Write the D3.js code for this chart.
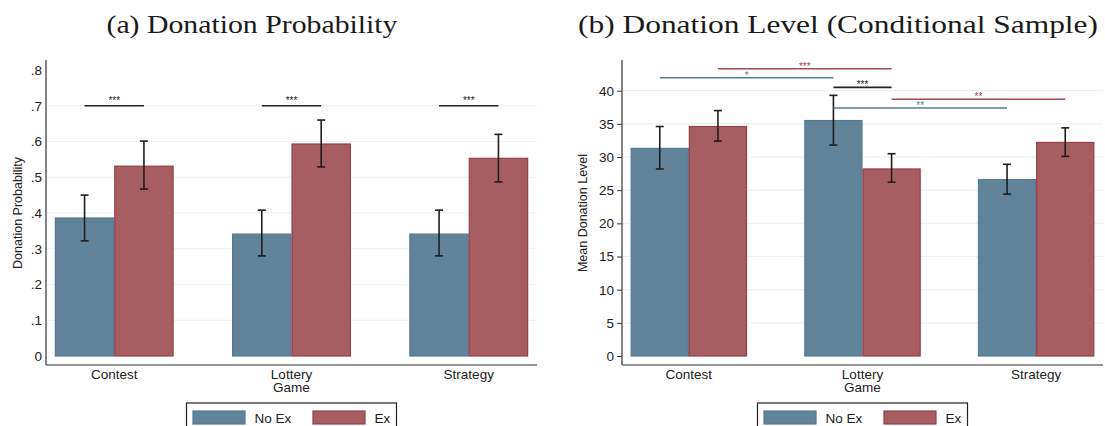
<!DOCTYPE html>
<html>
<head>
<meta charset="utf-8">
<script src="https://cdn.jsdelivr.net/npm/d3@7"></script>
<style>
  body { margin: 0; background: #fff; }
  svg { display: block; font-family: "Liberation Sans", Arial, sans-serif; }
</style>
</head>
<body>
<svg id="chart" width="1105" height="426"></svg>
<script>
// ---- data ----
const categories = ["Contest", "Lottery", "Strategy"];
const groups = ["No Ex", "Ex"];

// panel (a): donation probability, mean and 95% CI
const probNoEx   = [0.386, 0.341, 0.341];
const probNoExLo = [0.322, 0.280, 0.280];
const probNoExHi = [0.450, 0.408, 0.408];
const probEx     = [0.531, 0.593, 0.553];
const probExLo   = [0.467, 0.529, 0.487];
const probExHi   = [0.601, 0.660, 0.620];
const probTicks  = [0, 0.1, 0.2, 0.3, 0.4, 0.5, 0.6, 0.7, 0.8];
const probGrid   = [0.1, 0.2, 0.3, 0.4, 0.5, 0.6, 0.7];

// panel (b): mean donation level, conditional sample
const levelNoEx   = [31.3, 35.5, 26.6];
const levelNoExLo = [28.2, 31.8, 24.4];
const levelNoExHi = [34.6, 39.3, 28.9];
const levelEx     = [34.6, 28.2, 32.2];
const levelExLo   = [32.4, 26.2, 30.1];
const levelExHi   = [37.0, 30.5, 34.4];
const levelTicks  = [0, 5, 10, 15, 20, 25, 30, 35, 40];
const levelGrid   = [5, 10, 15, 20, 25, 30, 35, 40];

// significance brackets: [cat, group] -> [cat, group], height, stars, colour key
const probSig = [
  {from: ["Contest", "No Ex"], to: ["Contest", "Ex"], y: 0.7, label: "***", c: "k"},
  {from: ["Lottery", "No Ex"], to: ["Lottery", "Ex"], y: 0.7, label: "***", c: "k"},
  {from: ["Strategy", "No Ex"], to: ["Strategy", "Ex"], y: 0.7, label: "***", c: "k"}
];
const levelSig = [
  {from: ["Contest", "Ex"], to: ["Lottery", "Ex"], y: 43.3, label: "***", c: "Ex"},
  {from: ["Contest", "No Ex"], to: ["Lottery", "No Ex"], y: 41.95, label: "*", c: "No Ex"},
  {from: ["Lottery", "No Ex"], to: ["Lottery", "Ex"], y: 40.5, label: "***", c: "k"},
  {from: ["Lottery", "Ex"], to: ["Strategy", "Ex"], y: 38.7, label: "**", c: "Ex"},
  {from: ["Lottery", "No Ex"], to: ["Strategy", "No Ex"], y: 37.4, label: "**", c: "No Ex"}
];

const fillColor = {"No Ex": "#62849a", "Ex": "#a65e63"};
const strokeColor = {"No Ex": "#557a91", "Ex": "#9a3f4a"};
const sigColor = {"No Ex": "#5a7d95", "Ex": "#a8464f", "k": "#222"};

const svg = d3.select("#chart");

function rows(mean, lo, hi, group) {
  return categories.map((c, i) => ({cat: c, group: group, v: mean[i], lo: lo[i], hi: hi[i]}));
}

function drawPanel(opt) {
  const g = svg.append("g");
  const x = d3.scaleBand().domain(categories)
      .range([opt.left, opt.right]).paddingInner(0.33).paddingOuter(0.05);
  const xg = d3.scaleBand().domain(groups).range([0, x.bandwidth()]);
  const y = d3.scaleLinear().domain(opt.domain).range([356, opt.topPx]);

  // title
  g.append("text")
    .attr("x", opt.titleX).attr("y", 33)
    .attr("text-anchor", "middle")
    .attr("textLength", opt.titleLen).attr("lengthAdjust", "spacingAndGlyphs")
    .style("font-family", "'Liberation Serif', 'DejaVu Serif', serif")
    .style("font-size", "26px").style("fill", "#1a1a1a")
    .text(opt.title);

  // gridlines
  g.selectAll("line.grid")
    .data(opt.grid)
    .enter().append("line")
    .attr("class", "grid")
    .attr("x1", opt.left + 1).attr("x2", opt.right)
    .attr("y1", d => y(d)).attr("y2", d => y(d))
    .attr("stroke", "#e9f1f2").attr("stroke-width", 1.2);

  // bars
  const data = rows(opt.noEx, opt.noExLo, opt.noExHi, "No Ex")
    .concat(rows(opt.ex, opt.exLo, opt.exHi, "Ex"));
  g.selectAll("rect.bar")
    .data(data)
    .enter().append("rect")
    .attr("class", "bar")
    .attr("x", d => x(d.cat) + xg(d.group) + 0.5)
    .attr("width", xg.bandwidth() - 1)
    .attr("y", d => y(d.v))
    .attr("height", d => y(0) - y(d.v))
    .attr("fill", d => fillColor[d.group])
    .attr("stroke", d => strokeColor[d.group])
    .attr("stroke-width", 1.2);

  // error bars
  const cx = d => x(d.cat) + xg(d.group) + xg.bandwidth() / 2;
  const eb = g.selectAll("g.err").data(data).enter().append("g").attr("class", "err")
    .attr("stroke", "#1e1e1e").attr("stroke-width", 1.6);
  eb.append("line").attr("x1", cx).attr("x2", cx)
    .attr("y1", d => y(d.lo)).attr("y2", d => y(d.hi));
  eb.append("line").attr("x1", d => cx(d) - 4).attr("x2", d => cx(d) + 4)
    .attr("y1", d => y(d.hi)).attr("y2", d => y(d.hi));
  eb.append("line").attr("x1", d => cx(d) - 4).attr("x2", d => cx(d) + 4)
    .attr("y1", d => y(d.lo)).attr("y2", d => y(d.lo));

  // significance brackets
  const pos = p => x(p[0]) + xg(p[1]) + xg.bandwidth() / 2;
  const sg = g.selectAll("g.sig").data(opt.sig).enter().append("g").attr("class", "sig");
  sg.append("line")
    .attr("x1", d => pos(d.from)).attr("x2", d => pos(d.to))
    .attr("y1", d => y(d.y)).attr("y2", d => y(d.y))
    .attr("stroke", d => sigColor[d.c]).attr("stroke-width", 1.6);
  sg.append("text")
    .attr("x", d => (pos(d.from) + pos(d.to)) / 2)
    .attr("y", d => y(d.y) + opt.starDy)
    .attr("text-anchor", "middle")
    .style("font-size", "10px")
    .style("fill", d => sigColor[d.c])
    .text(d => d.label);

  // y axis
  const yAxis = d3.axisLeft(y).tickValues(opt.ticks).tickFormat(opt.fmt)
    .tickSize(opt.tickLen).tickPadding(opt.tickLen ? 3 : 4);
  const ya = g.append("g").attr("transform", `translate(${opt.left},0)`).call(yAxis);
  ya.select(".domain").remove();
  ya.selectAll("line").attr("stroke", "#333");
  ya.selectAll("text").style("font-size", "13.5px").style("fill", "#222")
    .style("font-family", "'Liberation Sans', Arial, sans-serif");

  // axis lines
  g.append("line").attr("x1", opt.left).attr("x2", opt.left)
    .attr("y1", 60).attr("y2", 365).attr("stroke", "#333").attr("stroke-width", 1.2);
  g.append("line").attr("x1", opt.left).attr("x2", opt.right)
    .attr("y1", 365).attr("y2", 365).attr("stroke", "#333").attr("stroke-width", 1.2);

  // x labels
  g.selectAll("text.xlab").data(categories).enter().append("text")
    .attr("class", "xlab")
    .attr("x", d => x(d) + x.bandwidth() / 2).attr("y", 379)
    .attr("text-anchor", "middle")
    .style("font-size", "13.5px").style("fill", "#222")
    .text(d => d);
  g.append("text")
    .attr("x", x("Lottery") + x.bandwidth() / 2).attr("y", 392)
    .attr("text-anchor", "middle")
    .style("font-size", "13.5px").style("fill", "#222")
    .text("Game");

  // y title
  g.append("text")
    .attr("transform", `translate(${opt.yTitleX},${opt.yTitleY}) rotate(-90)`)
    .attr("text-anchor", "middle")
    .style("font-size", "12.5px").style("fill", "#222")
    .text(opt.yTitle);

  // legend (cut off at the bottom of the image)
  const lg = g.append("g").attr("transform", `translate(${opt.legendX},403)`);
  lg.append("rect").attr("x", 0).attr("y", 0).attr("width", 210).attr("height", 40)
    .attr("fill", "#fff").attr("stroke", "#222").attr("stroke-width", 1.2);
  groups.forEach((grp, i) => {
    lg.append("rect").attr("x", 6.5 + i * 120).attr("y", 8)
      .attr("width", 52).attr("height", 13)
      .attr("fill", fillColor[grp]).attr("stroke", strokeColor[grp]).attr("stroke-width", 1.2);
    lg.append("text").attr("x", 68 + i * 120).attr("y", 20)
      .style("font-size", "13.5px").style("fill", "#222")
      .text(grp);
  });
}

drawPanel({
  left: 46, right: 537, domain: [0, 0.8], topPx: 70,
  ticks: probTicks, grid: probGrid,
  fmt: d => d === 0 ? "0" : d3.format(".1f")(d).replace(/^0/, ""),
  tickLen: 0,
  noEx: probNoEx, noExLo: probNoExLo, noExHi: probNoExHi,
  ex: probEx, exLo: probExLo, exHi: probExHi,
  sig: probSig, starDy: -2,
  title: "(a) Donation Probability", titleX: 252, titleLen: 291,
  yTitle: "Donation Probability", yTitleX: 22, yTitleY: 213,
  legendX: 186.5
});

drawPanel({
  left: 622, right: 1103, domain: [0, 40], topPx: 90.7,
  ticks: levelTicks, grid: levelGrid, fmt: d3.format("d"),
  tickLen: 5,
  noEx: levelNoEx, noExLo: levelNoExLo, noExHi: levelNoExHi,
  ex: levelEx, exLo: levelExLo, exHi: levelExHi,
  sig: levelSig, starDy: 1,
  title: "(b) Donation Level (Conditional Sample)", titleX: 838, titleLen: 520,
  yTitle: "Mean Donation Level", yTitleX: 587, yTitleY: 213,
  legendX: 757.5
});
</script>
</body>
</html>
